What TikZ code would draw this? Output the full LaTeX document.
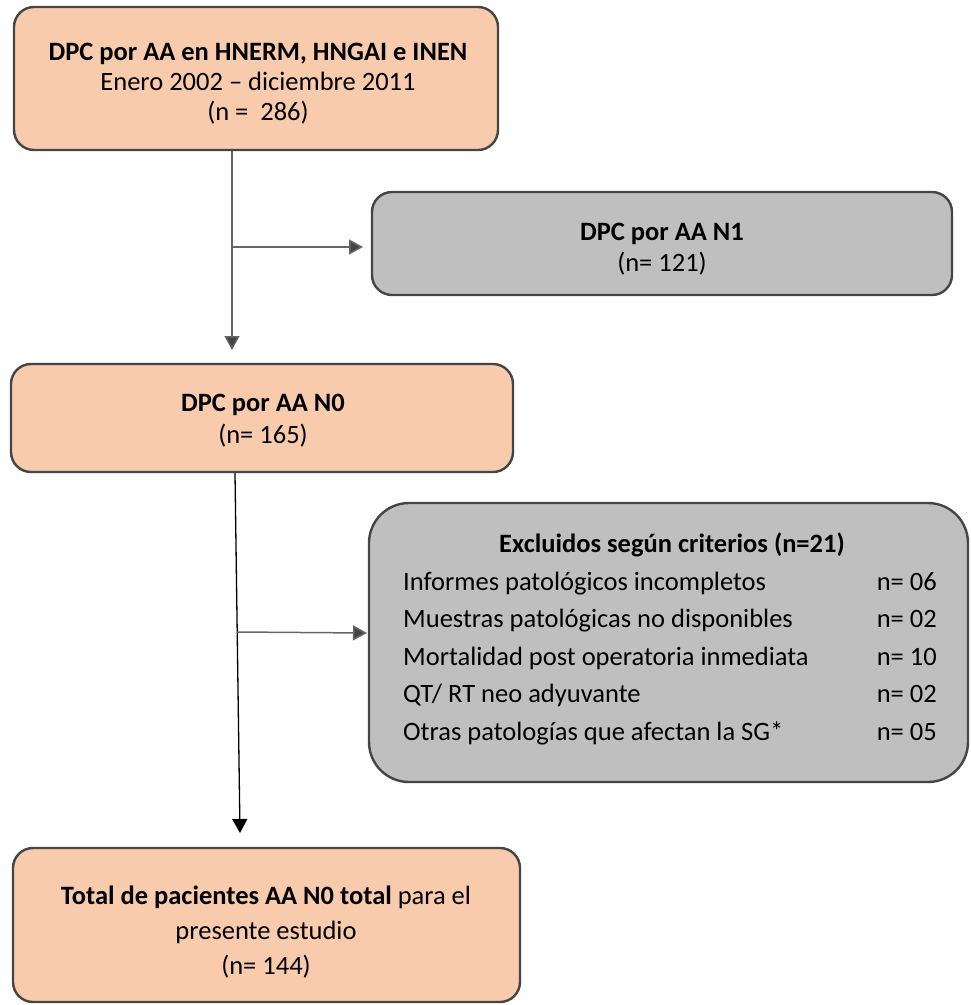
\documentclass[tikz,border=0pt]{standalone}
\usepackage{fontspec}
\setmainfont{Carlito}
\usetikzlibrary{arrows.meta}
\definecolor{peach}{HTML}{F8CBAD}
\definecolor{grayfill}{HTML}{BFBFBF}
\definecolor{edgecol}{HTML}{454545}
\definecolor{conncol}{HTML}{666666}
\tikzset{
  box/.style={draw=edgecol, line width=2.4pt, rounded corners=20pt, rectangle, inner sep=0pt},
  txt/.style={anchor=base, inner sep=0pt, font=\fontsize{26.5}{32}\selectfont},
  conn/.style={draw=conncol, line width=1.5pt},
  tip/.style={-{Triangle[length=14pt,width=15pt]}},
}
\begin{document}
\begin{tikzpicture}[x=1pt,y=-1pt]
\useasboundingbox (0,0) rectangle (971,1005);
% boxes
\node[box, fill=peach, minimum width=484pt, minimum height=143pt] (b1) at (256,78.5) {};
\node[box, fill=grayfill, minimum width=580pt, minimum height=103pt] (b2) at (662,243.5) {};
\node[box, fill=peach, minimum width=502pt, minimum height=108pt] (b3) at (262,418) {};
\node[box, fill=grayfill, rounded corners=40pt, minimum width=599pt, minimum height=279pt] (b4) at (668.5,642.5) {};
\node[box, fill=peach, minimum width=507pt, minimum height=154pt] (b5) at (266.5,925) {};
% texts box 1
\node[txt] (t1a) at (258,60) {\textbf{DPC por AA en HNERM, HNGAI e INEN}};
\node[txt] (t1b) at (258,90) {Enero 2002 – diciembre 2011};
\node[txt] (t1c) at (258,120) {(n =\ \ 286)};
% box 2
\node[txt] (t2a) at (662,240) {\textbf{DPC por AA N1}};
\node[txt] (t2b) at (662,271) {(n= 121)};
% box 3
\node[txt] (t3a) at (263,411) {\textbf{DPC por AA N0}};
\node[txt] (t3b) at (263,443) {(n= 165)};
% box 4
\node[txt] (t4) at (672,552) {\textbf{Excluidos según criterios (n=21)}};
\node[txt, anchor=base west] (i1) at (403,590) {Informes patológicos incompletos};
\node[txt, anchor=base west] (i2) at (403,627.5) {Muestras patológicas no disponibles};
\node[txt, anchor=base west] (i3) at (403,665) {Mortalidad post operatoria inmediata};
\node[txt, anchor=base west] (i4) at (403,702.5) {QT/ RT neo adyuvante};
\node[txt, anchor=base west] (i5) at (403,740) {Otras patologías que afectan la SG*};
\node[txt, anchor=base east] (n1) at (937,590) {n= 06};
\node[txt, anchor=base east] (n2) at (937,627.5) {n= 02};
\node[txt, anchor=base east] (n3) at (937,665) {n= 10};
\node[txt, anchor=base east] (n4) at (937,702.5) {n= 02};
\node[txt, anchor=base east] (n5) at (937,740) {n= 05};
% box 5
\node[txt] (t5a) at (266,904) {\textbf{Total de pacientes AA N0 total} para el};
\node[txt] (t5b) at (266,939) {presente estudio};
\node[txt] (t5c) at (266,974) {(n= 144)};
% connectors
\coordinate (c1) at (232,247);
\coordinate (a1) at (232,350);
\coordinate (a2) at (363,247);
\draw[conn, tip, -{Triangle[length=14pt,width=15pt,fill=edgecol]}] (b1.south -| a1) -- (a1);
\draw[conn, -{Triangle[length=14pt,width=15pt,fill=edgecol]}, draw=conncol] (c1) -- (a2);
\coordinate (s2) at ([xshift=-27pt]b3.south);
\coordinate (a3) at (240,833);
\coordinate (c2) at (237,632);
\coordinate (a4) at (367,633);
\draw[line width=1.3pt, -{Triangle[length=14pt,width=15pt]}] (s2) -- (a3);
\draw[conn, -{Triangle[length=14pt,width=15pt,fill=edgecol]}] (c2) -- (a4);
\end{tikzpicture}
\end{document}
